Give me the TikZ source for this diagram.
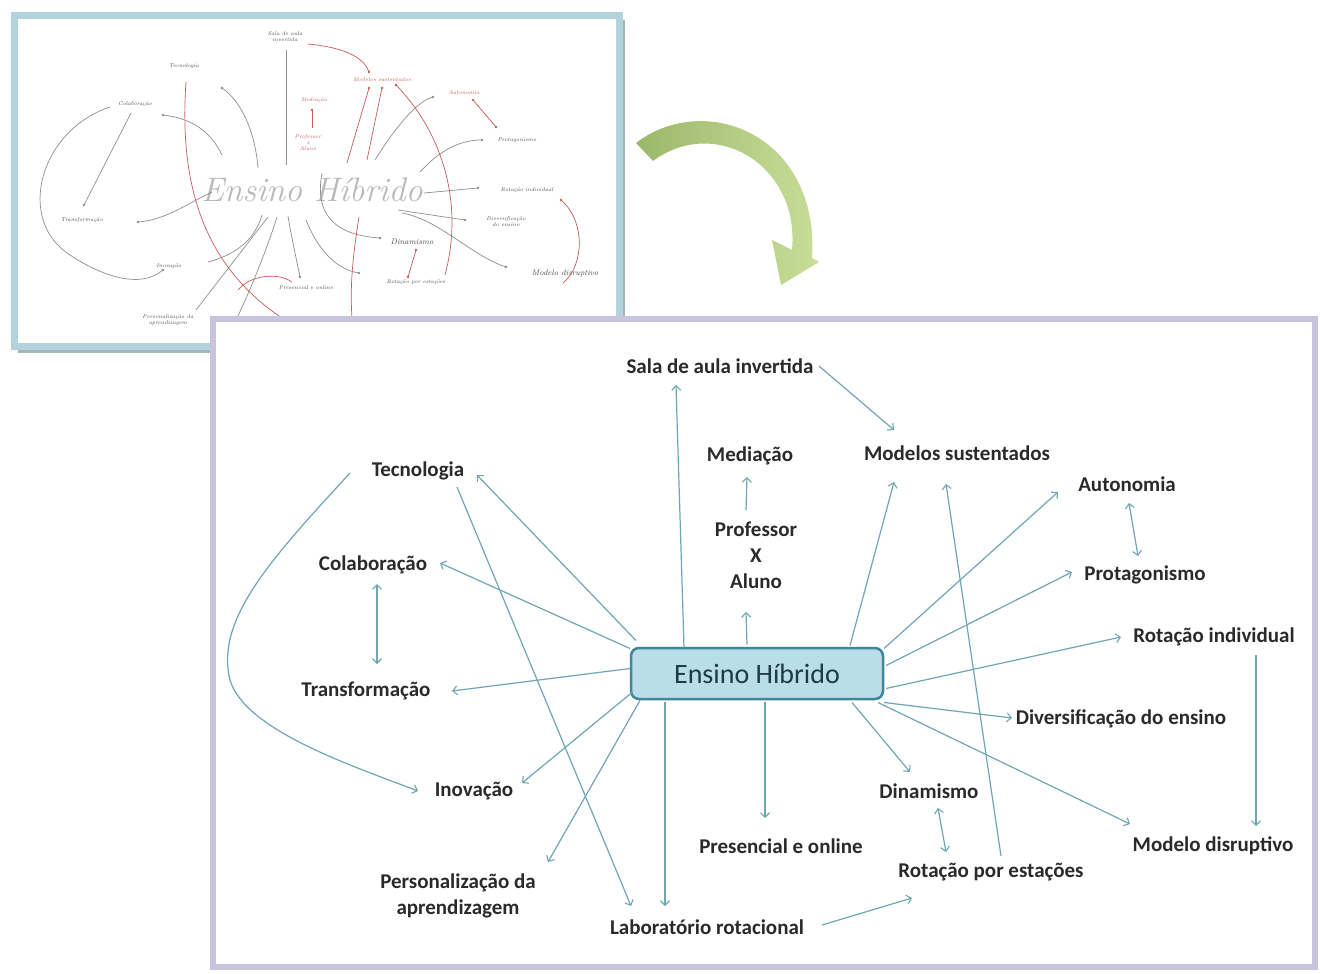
\documentclass[tikz,border=0pt]{standalone}
\usepackage{fontspec}
\setmainfont{Carlito}
\newfontfamily\handfont{Latin Modern Roman}
\usetikzlibrary{arrows.meta,calc}

\definecolor{txt}{HTML}{2A2A2A}
\definecolor{lnk}{HTML}{6FA6B4}
\definecolor{hubfill}{HTML}{B9DEEA}
\definecolor{hubline}{HTML}{3E8699}
\definecolor{hubtxt}{HTML}{1E3A46}
\definecolor{frm}{HTML}{C9C4DD}
\definecolor{skfrm}{HTML}{B2D3DC}
\definecolor{skshadow}{HTML}{A3B4BA}
\definecolor{skgray}{HTML}{8E8E8E}
\definecolor{skred}{HTML}{C65B58}
\definecolor{skink}{HTML}{4A4A4A}
\definecolor{arrdark}{HTML}{9CB86A}
\definecolor{arrlight}{HTML}{C8DE99}

\newcommand\lblfont{\bfseries\fontsize{21}{26}\selectfont}
\newcommand\skfont{\handfont\itshape\fontsize{5.5}{6}\selectfont}

\begin{document}
\begin{tikzpicture}[x=1pt,y=-1pt,
  lbl/.style={font=\lblfont, text=txt, inner sep=0pt, align=center},
  conn/.style={draw=lnk, line width=1.2pt, -{Straight Barb[length=4.5pt,width=9pt,line width=1.1pt]}},
  twoway/.style={draw=lnk, line width=1.2pt, {Straight Barb[length=4.5pt,width=9pt,line width=1.1pt]}-{Straight Barb[length=4.5pt,width=9pt,line width=1.1pt]}},
  sk/.style={draw=skgray, line width=0.7pt},
  skr/.style={draw=skred, line width=0.7pt},
  skt/.style={font=\skfont, text=skink, align=center, inner sep=0pt},
  skrt/.style={skt, text=skred},
  skdot/.style={fill=skgray},
  skrdot/.style={fill=skred}
]
\useasboundingbox (0,0) rectangle (1320,974);
\fill[white] (0,0) rectangle (1320,974);

% ---------- hand-drawn draft in its framed photo ----------
\fill[skshadow] (18,20) rectangle (625,353);
\draw[draw=skfrm, line width=7pt, fill=white] (14,16) rectangle (619,346);

\begin{scope}
  \node[font=\handfont\itshape\fontsize{34}{34}\selectfont, text=gray!55] (skhub) at (312,190) {Ensino Híbrido};

  \node[skt] at (285,37) {Sala de aula\\invertida};
  \node[skrt] at (382,80) {Modelos sustentados};
  \node[skt] at (184,66) {Tecnologia};
  \node[skrt] at (314,100) {Mediação};
  \node[skrt] at (308,143) {Professor\\x\\Aluno};
  \node[skt] at (135,104) {Colaboração};
  \node[skrt] at (464,93) {Autonomia};
  \node[skt] at (517,140) {Protagonismo};
  \node[skt] at (527,190) {Rotação individual};
  \node[skt] at (506,222) {Diversificação\\do ensino};
  \node[skt, font=\handfont\itshape\fontsize{8}{8}\selectfont] at (565,273) {Modelo disruptivo};
  \node[skt, font=\handfont\itshape\fontsize{8}{8}\selectfont] at (412,242) {Dinamismo};
  \node[skt] at (416,282) {Rotação por estações};
  \node[skt] at (306,288) {Presencial e online};
  \node[skt] at (82,220) {Transformação};
  \node[skt] at (169,266) {Inovação};
  \node[skt] at (168,320) {Personalização da\\aprendizagem};

  % grey strokes
  \draw[sk] (286,50) -- (286,165);
  \draw[sk] (288,216) .. controls (292,240) and (297,262) .. (300,277);
  \draw[sk] (258,168) .. controls (255,130) and (240,100) .. (222,88);
  \draw[sk] (222,155) .. controls (210,130) and (190,118) .. (163,115);
  \draw[sk] (131,113) -- (84,205);
  \draw[sk] (212,192) .. controls (185,205) and (165,220) .. (138,222);
  \draw[sk] (110,107) .. controls (40,130) and (15,220) .. (70,255)
                      .. controls (100,275) and (140,290) .. (163,270);
  \draw[sk] (208,262) .. controls (235,255) and (255,240) .. (262,215);
  \draw[sk] (196,310) -- (268,217);
  \draw[sk] (277,217) .. controls (265,255) and (248,295) .. (237,318);
  \draw[sk] (375,160) .. controls (400,120) and (420,100) .. (433,97);
  \draw[sk] (420,172) .. controls (440,150) and (460,140) .. (482,140);
  \draw[sk] (424,193) -- (478,188);
  \draw[sk] (398,210) -- (465,220);
  \draw[sk] (402,213) .. controls (440,220) and (470,255) .. (506,267);
  \draw[sk] (322,173) .. controls (315,210) and (330,235) .. (380,238);
  \draw[sk] (306,220) .. controls (320,255) and (340,270) .. (359,273);

  % red strokes
  \draw[skr] (308,44) .. controls (350,48) and (365,60) .. (369,72);
  \draw[skr] (186,82) .. controls (180,170) and (195,260) .. (282,318);
  \draw[skr] (312,128) -- (312,110);
  \draw[skr] (347,163) -- (369,88);
  \draw[skr] (367,160) -- (382,88);
  \draw[skr] (396,85) .. controls (440,130) and (465,200) .. (445,275);
  \draw[skr] (473,100) -- (496,127);
  \draw[skr] (561,200) .. controls (585,220) and (585,265) .. (563,283);
  \draw[skr] (416,250) -- (408,277);
  \draw[skr] (359,217) .. controls (352,260) and (350,290) .. (352,318);
  \draw[skr] (238,290) .. controls (250,275) and (278,272) .. (292,282);

  % arrow dots
  \foreach \p in {(222,88),(163,115),(84,205),(138,222),(163,270),(300,277),
                  (433,97),(482,140),(478,188),(465,220),(506,267),(380,238),(359,273)}
    \fill[skdot] \p circle (1.4);
  \foreach \p in {(369,72),(312,110),(369,88),(382,88),(396,85),(473,100),(496,127),
                  (561,200),(416,250),(408,277)}
    \fill[skrdot] \p circle (1.4);
\end{scope}

% ---------- curved green arrow ----------
\shade[left color=arrdark, right color=arrlight]
  (636,143) .. controls (705,90) and (820,135) .. (812,258)
  -- (819,262) -- (781,285) -- (772,240) -- (792,250)
  .. controls (800,165) and (715,115) .. (653,161) -- cycle;

% ---------- concept map ----------
\draw[draw=frm, line width=6pt, fill=white] (213,319) rectangle (1315,967);

\node[draw=hubline, line width=2.5pt, fill=hubfill, rounded corners=8pt,
      minimum width=252pt, minimum height=51pt, inner sep=0pt,
      font=\fontsize{28}{30}\selectfont, text=hubtxt] (hub) at (757,673.5) {Ensino Híbrido};

\node[lbl] (sala)  at (720,366) {Sala de aula invertida};
\node[lbl] (med)   at (750,456) {Mediação};
\node[lbl] (prof)  at (756,555) {Professor\\X\\Aluno};
\node[lbl] (mod)   at (957,453) {Modelos sustentados};
\node[lbl] (tec)   at (418,471) {Tecnologia};
\node[lbl] (auto)  at (1127,484) {Autonomia};
\node[lbl] (colab) at (373,565) {Colaboração};
\node[lbl] (prot)  at (1145,575) {Protagonismo};
\node[lbl] (rotind) at (1214,637) {Rotação individual};
\node[lbl] (trans) at (366,691) {Transformação};
\node[lbl] (div)   at (1121,719) {Diversificação do ensino};
\node[lbl] (inov)  at (474,791) {Inovação};
\node[lbl] (din)   at (929,791) {Dinamismo};
\node[lbl] (pres)  at (781,846) {Presencial e online};
\node[lbl] (moddis) at (1213,846) {Modelo disruptivo};
\node[lbl] (rotest) at (991,872) {Rotação por estações};
\node[lbl] (pers)  at (458,896) {Personalização da\\aprendizagem};
\node[lbl] (lab)   at (707,927) {Laboratório rotacional};

\draw[conn] ($(hub)+(-73,-26)$) -- ($(sala)+(-44,19)$);
\draw[conn] ($(sala)+(99,0)$) -- ($(mod)+(-63,-23)$);
\draw[conn] ($(hub)+(-10,-29)$) -- ($(prof)+(-10,57)$);
\draw[conn] ($(prof)+(-10,-45)$) -- ($(med)+(-3,21)$);
\draw[conn] ($(hub)+(93,-28)$) -- ($(mod)+(-63,29)$);
\draw[conn] ($(rotest)+(10,-16)$) -- ($(mod)+(-11,31)$);
\draw[conn] ($(hub)+(127,-25)$) -- ($(auto)+(-69,8)$);
\draw[twoway] ($(auto)+(2,19)$) -- ($(prot)+(-7,-19)$);
\draw[conn] ($(hub)+(129,-8)$) -- ($(prot)+(-73,-3)$);
\draw[conn] ($(hub)+(129,15)$) -- ($(rotind)+(-93,0)$);
\draw[conn] ($(hub)+(127,29)$) -- ($(div)+(-109,-1)$);
\draw[conn] ($(rotind)+(42,18)$) -- ($(moddis)+(43,-20)$);
\draw[conn] ($(hub)+(121,29)$) -- ($(moddis)+(-83,-22)$);
\draw[conn] ($(hub)+(95,29)$) -- ($(din)+(-19,-19)$);
\draw[twoway] ($(din)+(9,17)$) -- ($(rotest)+(-45,-20)$);
\draw[conn] ($(hub)+(8,28)$) -- ($(pres)+(-16,-28)$);
\draw[conn] ($(hub)+(-92,28)$) -- ($(lab)+(-42,-21)$);
\draw[conn] ($(lab)+(115,-2)$) -- ($(rotest)+(-79,26)$);
\draw[conn] ($(tec)+(39,16)$) -- ($(lab)+(-76,-21)$);
\draw[conn] ($(hub)+(-117,27)$) -- ($(pers)+(90,-34)$);
\draw[conn] ($(hub)+(-125,19)$) -- ($(inov)+(48,-8)$);
\draw[conn] ($(hub)+(-127,-5)$) -- ($(trans)+(86,0)$);
\draw[conn] ($(hub)+(-127,-25)$) -- ($(colab)+(67,-2)$);
\draw[conn] ($(hub)+(-121,-33)$) -- ($(tec)+(59,4)$);
\draw[twoway] ($(colab)+(4,19)$) -- ($(trans)+(11,-27)$);
\draw[conn] ($(tec)+(-68,2)$) .. controls (270,560) and (215,620) .. (230,680)
            .. controls (245,730) and (350,765) .. ($(inov)+(-56,0)$);
\end{tikzpicture}
\end{document}
